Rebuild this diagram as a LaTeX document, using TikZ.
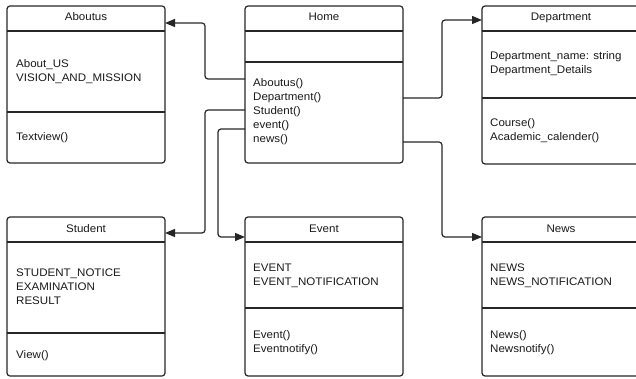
\documentclass[tikz,border=0pt]{standalone}
\usepackage{fontspec}
\setmainfont{Liberation Sans}[FakeStretch=1.05]
\usetikzlibrary{arrows.meta}
\tikzset{
  classbox/.style={draw=black!85, line width=1.2pt, rounded corners=3pt,
    rectangle, inner sep=0pt, outer sep=0pt, anchor=north west,
    minimum width=158pt},
  classtext/.style={anchor=base west, inner sep=0pt, align=left,
    text=black!90, font=\fontsize{11}{14}\selectfont},
  classtitle/.style={classtext, anchor=base},
  divider/.style={draw=black!85, line width=1.2pt},
  link/.style={draw=black!85, line width=1.2pt, rounded corners=3pt,
    -{Triangle[length=10pt,width=8pt]}}
}
\begin{document}
\begin{tikzpicture}[x=1pt,y=-1pt]
\useasboundingbox (0,0) rectangle (636,379);
% upper row
\node[classbox, minimum height=157pt] (aboutus) at (7,6) {};
\node[classbox, minimum height=157pt] (home) at (245,6) {};
\node[classbox, minimum height=158pt] (dept) at (482,6) {};
% lower row
\node[classbox, minimum height=159pt] (student) at (7,217) {};
\node[classbox, minimum height=159pt] (event) at (245,217) {};
\node[classbox, minimum height=159pt] (news) at (482,217) {};
% dividers
\foreach \b/\y in {aboutus/31,aboutus/112,home/31,home/62,dept/31,dept/98,
  student/242,student/333,event/242,event/308,news/242,news/308}
  \draw[divider] (\b.west |- 0,\y) -- (\b.east |- 0,\y);
% titles
\node[classtitle] (aboutus-t) at (aboutus.north |- 0,21) {Aboutus};
\node[classtitle] (home-t) at (home.north |- 0,21) {Home};
\node[classtitle] (dept-t) at (561,21) {Department};
\node[classtitle] (student-t) at (student.north |- 0,232) {Student};
\node[classtitle] (event-t) at (event.north |- 0,232) {Event};
\node[classtitle] (news-t) at (561,232) {News};
% attributes and methods (base = last line)
\node[classtext] (aboutus-a) at (16,82) {About\_US\\VISION\_AND\_MISSION};
\node[classtext] (aboutus-m) at (16,141) {Textview()};
\node[classtext] (home-m) at (253,143) {Aboutus()\\Department()\\Student()\\event()\\news()};
\node[classtext] (dept-a) at (490,74) {Department\_name: string\\Department\_Details};
\node[classtext] (dept-m) at (490,141) {Course()\\Academic\_calender()};
\node[classtext] (student-a) at (16,304) {STUDENT\_NOTICE\\EXAMINATION\\RESULT};
\node[classtext] (student-m) at (16,358) {View()};
\node[classtext] (event-a) at (253,285) {EVENT\\EVENT\_NOTIFICATION};
\node[classtext] (event-m) at (253,352) {Event()\\Eventnotify()};
\node[classtext] (news-a) at (490,285) {NEWS\\NEWS\_NOTIFICATION};
\node[classtext] (news-m) at (490,352) {News()\\Newsnotify()};
% connectors
\draw[link] (home.west |- 0,79) -| (205,23) -- (aboutus.east |- 0,23);
\draw[link] (home.east |- 0,98) -| (442,20) -- (dept.west |- 0,20);
\draw[link] (home.west |- 0,110) -| (205,233) -- (student.east |- 0,233);
\draw[link] (home.west |- 0,129) -| (218,237) -- (event.west |- 0,237);
\draw[link] (home.east |- 0,142) -| (442,237) -- (news.west |- 0,237);
\end{tikzpicture}
\end{document}
